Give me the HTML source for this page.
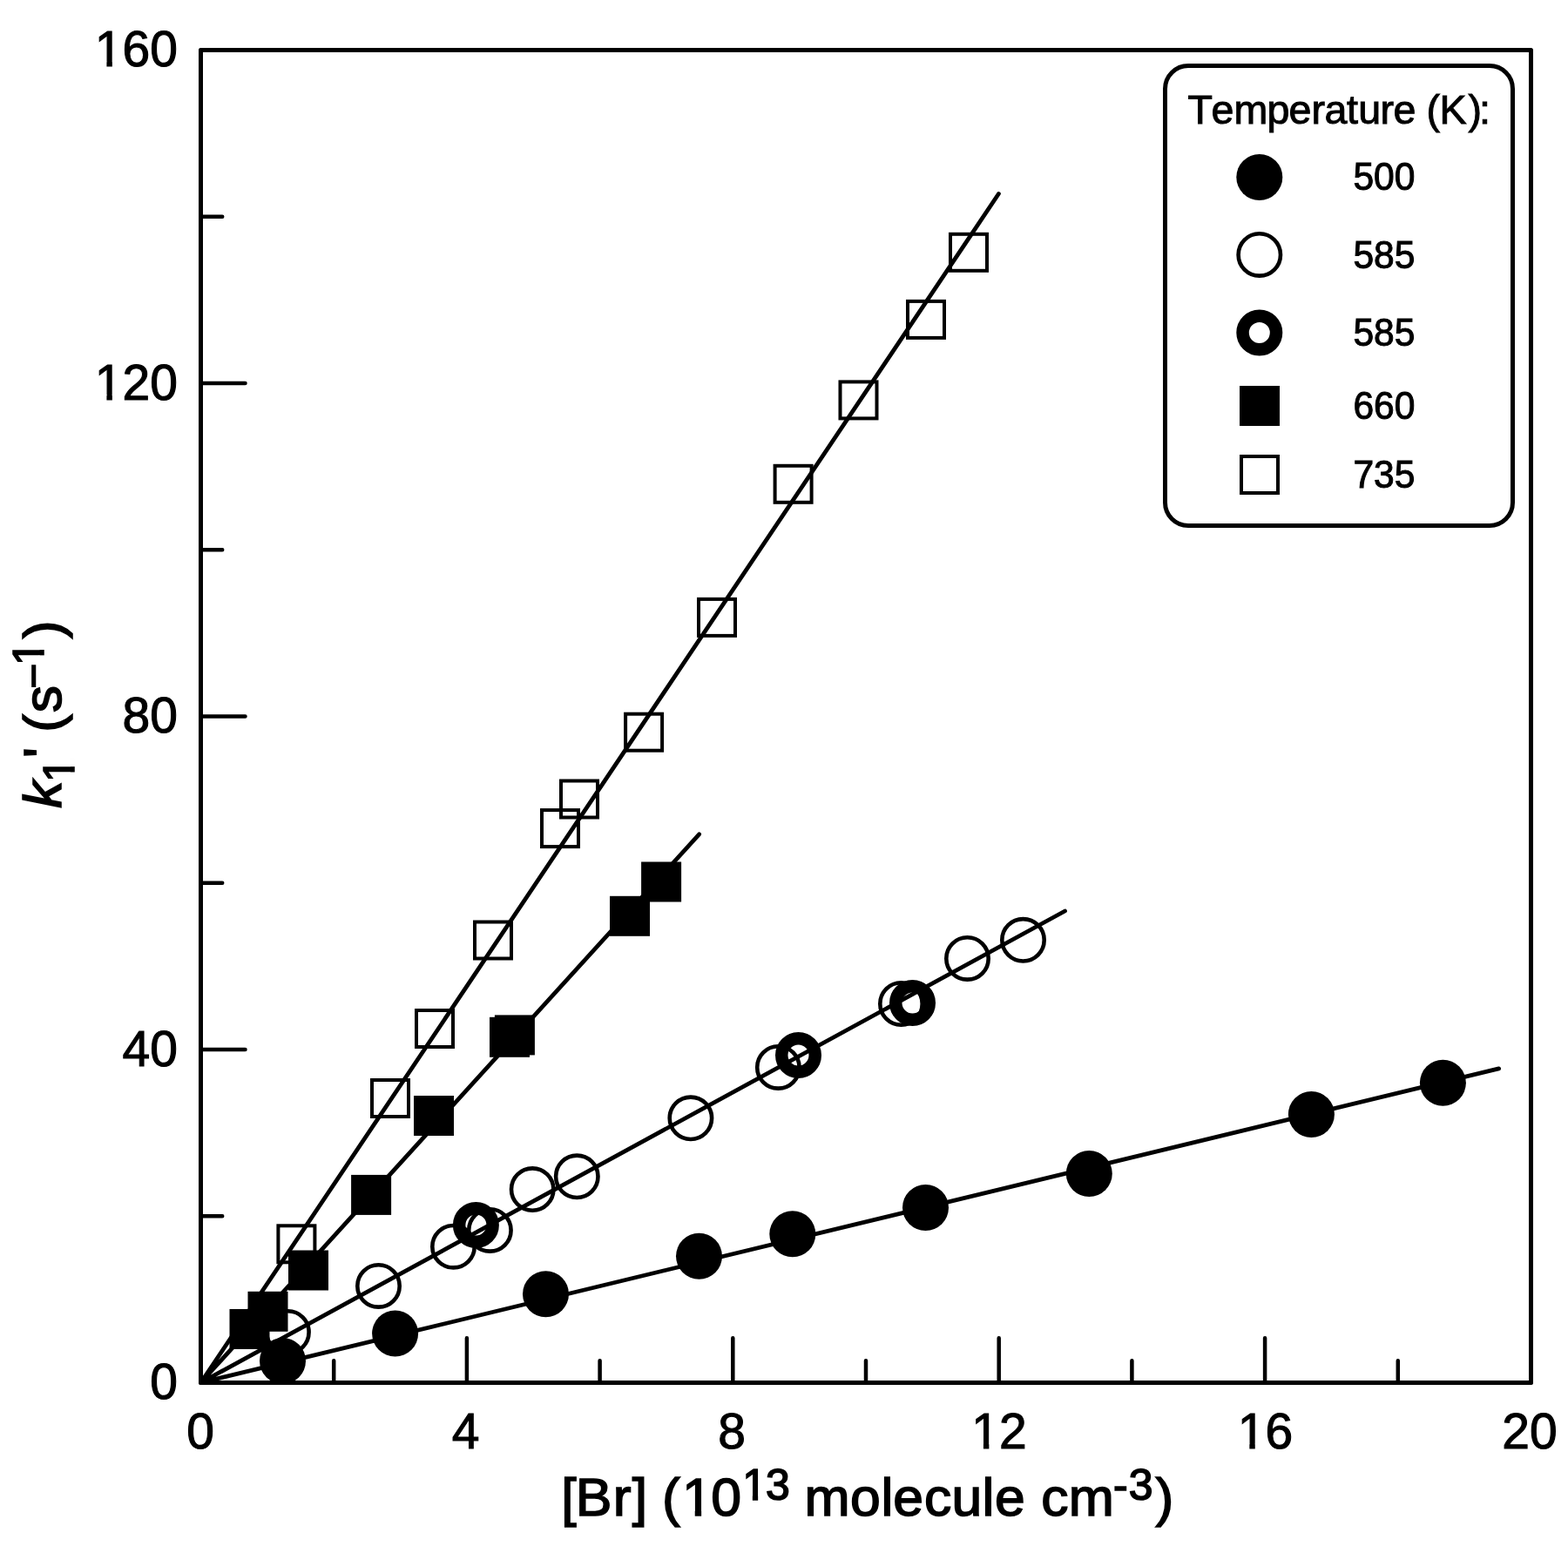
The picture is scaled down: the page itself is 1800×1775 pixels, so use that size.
<!DOCTYPE html>
<html><head><meta charset="utf-8"><title>k1' vs [Br]</title>
<style>html,body{margin:0;padding:0;background:#fff;}svg{display:block;}text{font-kerning:none;}</style></head>
<body><svg width="1800" height="1775" viewBox="0 0 1800 1775">
<rect width="1800" height="1775" fill="#fff"/>
<rect x="230.5" y="57.5" width="1527.0" height="1530.0" fill="none" stroke="#000" stroke-width="5" stroke-linejoin="round"/>
<path d="M230.5,1587.50H281.5 M230.5,1205.00H281.5 M230.5,822.50H281.5 M230.5,440.00H281.5 M230.5,57.50H281.5 M230.5,1396.25H255.2 M230.5,1013.75H255.2 M230.5,631.25H255.2 M230.5,248.75H255.2 M230.50,1587.5V1536.2 M535.90,1587.5V1536.2 M841.30,1587.5V1536.2 M1146.70,1587.5V1536.2 M1452.10,1587.5V1536.2 M1757.50,1587.5V1536.2 M383.20,1587.5V1562.2 M688.60,1587.5V1562.2 M994.00,1587.5V1562.2 M1299.40,1587.5V1562.2 M1604.80,1587.5V1562.2" stroke="#000" stroke-width="4.5" stroke-linecap="round" fill="none"/>
<path d="M230.5,1587.5L1720.6,1226.9 M230.5,1587.5L1222.5,1046.0 M230.5,1587.5L802.6,957.8 M230.5,1587.5L1146.4,222.5" stroke="#000" stroke-width="4.8" stroke-linecap="round" fill="none"/>
<g fill="#000">
<rect x="319.40" y="1407.30" width="42" height="42" fill="none" stroke="#000" stroke-width="4"/>
<rect x="427.00" y="1240.00" width="42" height="42" fill="none" stroke="#000" stroke-width="4"/>
<rect x="478.00" y="1160.00" width="42" height="42" fill="none" stroke="#000" stroke-width="4"/>
<rect x="545.00" y="1058.50" width="42" height="42" fill="none" stroke="#000" stroke-width="4"/>
<rect x="622.00" y="930.10" width="42" height="42" fill="none" stroke="#000" stroke-width="4"/>
<rect x="644.00" y="896.50" width="42" height="42" fill="none" stroke="#000" stroke-width="4"/>
<rect x="718.10" y="819.70" width="42" height="42" fill="none" stroke="#000" stroke-width="4"/>
<rect x="802.00" y="687.90" width="42" height="42" fill="none" stroke="#000" stroke-width="4"/>
<rect x="889.60" y="534.80" width="42" height="42" fill="none" stroke="#000" stroke-width="4"/>
<rect x="964.50" y="438.40" width="42" height="42" fill="none" stroke="#000" stroke-width="4"/>
<rect x="1042.00" y="345.90" width="42" height="42" fill="none" stroke="#000" stroke-width="4"/>
<rect x="1091.00" y="268.80" width="42" height="42" fill="none" stroke="#000" stroke-width="4"/>
<circle cx="330.4" cy="1529.5" r="24.2" fill="none" stroke="#000" stroke-width="4.6"/>
<circle cx="434.5" cy="1476.4" r="24.2" fill="none" stroke="#000" stroke-width="4.6"/>
<circle cx="520.5" cy="1431.2" r="24.2" fill="none" stroke="#000" stroke-width="4.6"/>
<circle cx="562.4" cy="1412.4" r="24.2" fill="none" stroke="#000" stroke-width="4.6"/>
<circle cx="611.2" cy="1365.6" r="24.2" fill="none" stroke="#000" stroke-width="4.6"/>
<circle cx="662.3" cy="1350.8" r="24.2" fill="none" stroke="#000" stroke-width="4.6"/>
<circle cx="792.9" cy="1283.8" r="24.2" fill="none" stroke="#000" stroke-width="4.6"/>
<circle cx="893.4" cy="1225.4" r="24.2" fill="none" stroke="#000" stroke-width="4.6"/>
<circle cx="1034.5" cy="1152.5" r="24.2" fill="none" stroke="#000" stroke-width="4.6"/>
<circle cx="1110.5" cy="1100.4" r="24.2" fill="none" stroke="#000" stroke-width="4.6"/>
<circle cx="1174.5" cy="1079.3" r="24.2" fill="none" stroke="#000" stroke-width="4.6"/>
<circle cx="546.4" cy="1406.4" r="19.25" fill="none" stroke="#000" stroke-width="14.5"/>
<circle cx="916.5" cy="1211.5" r="19.25" fill="none" stroke="#000" stroke-width="14.5"/>
<circle cx="1047.5" cy="1151.5" r="19.25" fill="none" stroke="#000" stroke-width="14.5"/>
<rect x="263.50" y="1503.00" width="46" height="46"/>
<rect x="284.50" y="1482.80" width="46" height="46"/>
<rect x="331.00" y="1435.50" width="46" height="46"/>
<rect x="403.10" y="1348.90" width="46" height="46"/>
<rect x="475.00" y="1258.00" width="46" height="46"/>
<rect x="562.00" y="1167.80" width="46" height="46"/>
<rect x="567.90" y="1165.40" width="46" height="46"/>
<rect x="700.00" y="1028.80" width="46" height="46"/>
<rect x="736.10" y="989.50" width="46" height="46"/>
<circle cx="324.5" cy="1562.5" r="26.5"/>
<circle cx="453.6" cy="1531.1" r="26.5"/>
<circle cx="626.5" cy="1485.7" r="26.5"/>
<circle cx="802.5" cy="1442.3" r="26.5"/>
<circle cx="909.8" cy="1416.8" r="26.5"/>
<circle cx="1062.5" cy="1386.5" r="26.5"/>
<circle cx="1250.3" cy="1347.4" r="26.5"/>
<circle cx="1505.4" cy="1279.4" r="26.5"/>
<circle cx="1656.4" cy="1243.3" r="26.5"/>
</g>
<rect x="1337.5" y="75.5" width="399" height="528" rx="26.5" ry="26.5" fill="none" stroke="#000" stroke-width="5"/>
<g fill="#000">
<circle cx="1445.8" cy="203.4" r="26.5"/>
<circle cx="1445.8" cy="292.4" r="24.2" fill="none" stroke="#000" stroke-width="4.6"/>
<circle cx="1445.8" cy="382.0" r="19.25" fill="none" stroke="#000" stroke-width="14.5"/>
<rect x="1423.00" y="443.00" width="46" height="46"/>
<rect x="1425.00" y="524.00" width="42" height="42" fill="none" stroke="#000" stroke-width="4"/>
</g>
<g font-family="'Liberation Sans', Arial, Helvetica, sans-serif" fill="#000"><text transform="translate(203.9,1606.4) scale(1,1.01)" font-size="57" text-anchor="end" stroke="#000" stroke-width="1.1">0</text><text transform="translate(203.9,1223.9) scale(1,1.01)" font-size="57" text-anchor="end" stroke="#000" stroke-width="1.1">40</text><text transform="translate(203.9,841.4) scale(1,1.01)" font-size="57" text-anchor="end" stroke="#000" stroke-width="1.1">80</text><text transform="translate(203.9,458.9) scale(1,1.01)" font-size="57" text-anchor="end" stroke="#000" stroke-width="1.1">120</text><text transform="translate(203.9,76.4) scale(1,1.01)" font-size="57" text-anchor="end" stroke="#000" stroke-width="1.1">160</text><text transform="translate(230.2,1663.4) scale(1,1.01)" font-size="57" text-anchor="middle" stroke="#000" stroke-width="1.1">0</text><text transform="translate(534.7,1663.4) scale(1,1.01)" font-size="57" text-anchor="middle" stroke="#000" stroke-width="1.1">4</text><text transform="translate(840.1,1663.4) scale(1,1.01)" font-size="57" text-anchor="middle" stroke="#000" stroke-width="1.1">8</text><text transform="translate(1147.0,1663.4) scale(1,1.01)" font-size="57" text-anchor="middle" stroke="#000" stroke-width="1.1">12</text><text transform="translate(1452.4,1663.4) scale(1,1.01)" font-size="57" text-anchor="middle" stroke="#000" stroke-width="1.1">16</text><text transform="translate(1755.9,1663.4) scale(1,1.01)" font-size="57" text-anchor="middle" stroke="#000" stroke-width="1.1">20</text><text transform="translate(1553.4,217.9) scale(1,1.03)" font-size="42.6" text-anchor="start" stroke="#000" stroke-width="1.0">500</text><text transform="translate(1553.4,307.9) scale(1,1.03)" font-size="42.6" text-anchor="start" stroke="#000" stroke-width="1.0">585</text><text transform="translate(1553.4,397.0) scale(1,1.03)" font-size="42.6" text-anchor="start" stroke="#000" stroke-width="1.0">585</text><text transform="translate(1553.4,480.9) scale(1,1.03)" font-size="42.6" text-anchor="start" stroke="#000" stroke-width="1.0">660</text><text transform="translate(1553.4,560.4) scale(1,1.03)" font-size="42.6" text-anchor="start" stroke="#000" stroke-width="1.0">735</text></g>
<text x="1363.45 1390.52 1416.41 1454.50 1479.52 1505.41 1520.52 1545.99 1559.17 1584.41 1599.42 1625.34 1637.61 1652.58 1685.43 1697.95" y="0" transform="translate(0,142.3) scale(1,1.0)" font-family="'Liberation Sans', Arial, Helvetica, sans-serif" font-size="46.6" fill="#000" stroke="#000" stroke-width="1.0" xml:space="preserve">Temperature (K):</text>
<text transform="scale(1,0.985)" font-family="'Liberation Sans', Arial, Helvetica, sans-serif" fill="#000" stroke="#000" stroke-width="1.6" xml:space="preserve"><tspan x="644.34 660.67 703.65 725.81 743.18 759.92 782.96 816.36" y="1766.40" font-size="62.5">[Br] (10</tspan><tspan x="852.21 878.90" y="1748.22" font-size="50.0">13</tspan><tspan x="906.19 923.55 975.98 1011.59 1025.14 1060.94 1092.49 1127.59 1141.89 1176.65 1195.14 1226.65" y="1766.40" font-size="62.5"> molecule cm</tspan><tspan x="1278.08 1295.65" y="1748.22" font-size="50.0">-3</tspan><tspan x="1326.43" y="1766.40" font-size="62.5">)</tspan></text>
<text transform="translate(70.1,0) rotate(-90) scale(1,0.985)" font-family="'Liberation Sans', Arial, Helvetica, sans-serif" fill="#000" stroke="#000" stroke-width="1.6" xml:space="preserve"><tspan x="-927.84" y="0.00" font-size="62.5" font-style="italic">k</tspan><tspan x="-898.09" y="15.33" font-size="50.0">1</tspan><tspan x="-870.07 -844.20 -840.78 -818.14" y="0.00" font-size="62.5">' (s</tspan><tspan x="-790.47" y="-15.33" font-size="50.0">−</tspan><tspan x="-763.99" y="-20.41" font-size="50.0">1</tspan><tspan x="-733.17" y="0.00" font-size="62.5">)</tspan></text>
<g fill="#fff"><rect x="111.69" y="453.15" width="10.74" height="7.20"/><rect x="128.87" y="453.15" width="10.30" height="7.20"/><rect x="111.69" y="70.65" width="10.74" height="7.20"/><rect x="128.87" y="70.65" width="10.30" height="7.20"/><rect x="1118.19" y="1657.65" width="10.74" height="7.20"/><rect x="1135.37" y="1657.65" width="10.30" height="7.20"/><rect x="1423.59" y="1657.65" width="10.74" height="7.20"/><rect x="1440.77" y="1657.65" width="10.30" height="7.20"/><rect x="786.02" y="1733.60" width="11.71" height="8.00"/><rect x="805.15" y="1733.60" width="11.22" height="8.00"/><rect x="854.62" y="1716.92" width="9.21" height="6.48"/><rect x="870.15" y="1716.92" width="8.82" height="6.48"/></g>
<g fill="#fff" transform="translate(70.1,0) rotate(-90) scale(1,0.985)"><rect x="-895.98" y="9.89" width="9.51" height="7.14"/><rect x="-880.15" y="9.89" width="9.12" height="7.14"/><rect x="-761.88" y="-25.84" width="9.51" height="7.14"/><rect x="-746.05" y="-25.84" width="9.12" height="7.14"/></g>
</svg></body></html>
